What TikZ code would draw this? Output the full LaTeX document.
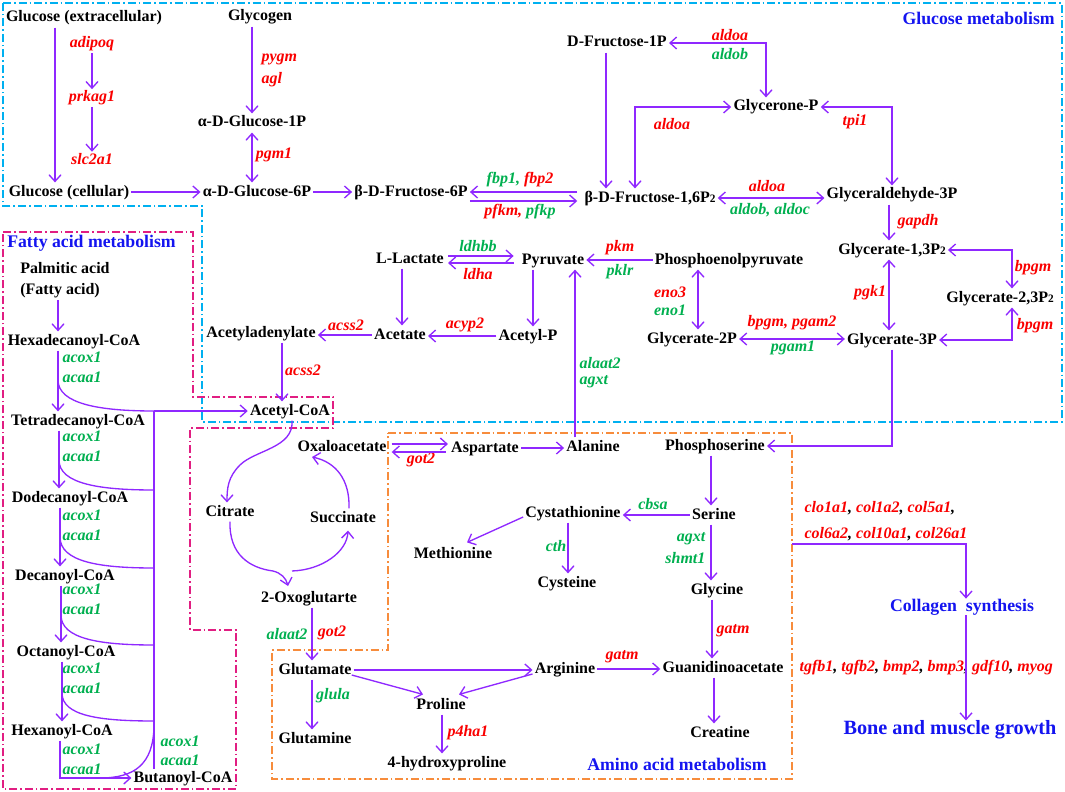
\documentclass[tikz,border=0pt]{standalone}
\usepackage{fontspec}
\setmainfont{Liberation Serif}
\usetikzlibrary{arrows.meta,calc}
\definecolor{pur}{RGB}{143,40,255}
\definecolor{gred}{RGB}{250,0,0}
\definecolor{ggreen}{RGB}{0,176,80}
\definecolor{tblue}{RGB}{20,20,240}
\definecolor{cyanb}{RGB}{0,176,240}
\definecolor{magb}{RGB}{225,30,130}
\definecolor{orab}{RGB}{247,140,60}
\newcommand\Ptwo{P{\fontsize{8.5}{9}\selectfont 2}}
\newcommand\blk[1]{{\color{black}#1}}
\begin{document}
\begin{tikzpicture}[x=0.75pt,y=-0.75pt,
 m/.style={font=\bfseries\fontsize{12}{13}\selectfont, inner sep=1.5pt, text height=8.5pt, text depth=2.5pt},
 mb/.style={font=\bfseries\fontsize{12}{15.75}\selectfont, inner sep=1.5pt},
 gr/.style={font=\bfseries\itshape\fontsize{12}{13}\selectfont, text=gred, inner sep=1pt},
 gg/.style={gr, text=ggreen},
 ttl/.style={font=\bfseries\fontsize{13.3}{14}\selectfont, text=tblue, inner sep=0pt},
 arr/.style={draw=pur, line width=1pt, -{Straight Barb[length=5pt,width=9pt]}},
 darr/.style={draw=pur, line width=1pt, {Straight Barb[length=5pt,width=9pt]}-{Straight Barb[length=5pt,width=9pt]}},
 ln/.style={draw=pur, line width=1pt},
 dd/.style={line width=1.3pt, dash pattern=on 6pt off 2.2pt on 1.3pt off 2.2pt}
]
\useasboundingbox (0,0) rectangle (1065,792);
\fill[white] (0,0) rectangle (1065,792);
% boxes
\draw[dd, cyanb] (3,3) -- (1062,3) -- (1062,422) -- (202,422) -- (202,206) -- (3,206) -- cycle;
\draw[dd, magb] (3,232) -- (193,232) -- (193,397) -- (333,397) -- (333,428) -- (190,428) -- (190,630) -- (236,630) -- (236,789) -- (3,789) -- cycle;
\draw[dd, orab] (388,433) -- (792,433) -- (792,779) -- (272,779) -- (272,650) -- (388,650) -- cycle;
% titles
\node[ttl, anchor=east] (tglc) at (1055,18) {Glucose metabolism};
\node[ttl, anchor=west] (tfat) at (7,243) {Fatty acid metabolism};
\node[ttl] (tamino) at (677,764) {Amino acid metabolism};
% x helper coordinates
\foreach \v in {55,58,59,60,61,62,227,282,292,312,348,349,402,442,533,568,575,606,635,698,711,712,714,766,889,966,1012}
  \coordinate (x\v) at (\v,0);
% ---- glucose metabolism
\node[m] (gext) at (84,18) {Glucose (extracellular)};
\node[gr] (adipoq) at (92,44) {adipoq};
\node[gr] (prkag) at (92,98) {prkag1};
\node[gr] (slc) at (92,159) {slc2a1};
\node[m] (gcell) at (69,192) {Glucose (cellular)};
\node[m] (glycogen) at (260,17) {Glycogen};
\node[gr, anchor=west] (pygm) at (260,59) {pygm};
\node[gr, anchor=west] (agl) at (260,80) {agl};
\node[m] (g1p) at (252,123) {α-D-Glucose-1P};
\node[gr] (pgm) at (274,155) {pgm1};
\node[m] (g6p) at (257,192) {α-D-Glucose-6P};
\node[m] (f6p) at (411,192) {β-D-Fructose-6P};
\node[gr] (fbp) at (520,180) {\color{ggreen}fbp1, \color{gred}fbp2};
\node[gr] (pfk) at (520,212) {pfkm, \color{ggreen}pfkp};
\node[m] (f16) at (650,198) {β-D-Fructose-1,6\Ptwo};
\node[m] (f1p) at (617,43) {D-Fructose-1P};
\node[gr] (aldoa1) at (730,35) {aldoa};
\node[gg] (aldob1) at (730,54) {aldob};
\node[m] (gp) at (776,107) {Glycerone-P};
\node[gr] (aldoa2) at (672,124) {aldoa};
\node[gr] (tpi) at (855,122) {tpi1};
\node[m] (gald) at (892,195) {Glyceraldehyde-3P};
\node[gr] (aldoa3) at (767,186) {aldoa};
\node[gg] (aldobc) at (770,210) {aldob, aldoc};
\node[gr] (gapdh) at (918,222) {gapdh};
\node[m] (g13) at (892,250) {Glycerate-1,3\Ptwo};
\node[m] (g23) at (1000,298) {Glycerate-2,3\Ptwo};
\node[gr] (bpgm1) at (1033,268) {bpgm};
\node[gr] (bpgm2) at (1035,326) {bpgm};
\node[m] (g3p) at (892,340) {Glycerate-3P};
\node[gr] (pgk) at (870,293) {pgk1};
\node[m] (g2p) at (692,339) {Glycerate-2P};
\node[gr] (bpgm3) at (792,323) {bpgm, pgam2};
\node[gg] (pgam1) at (793,348) {pgam1};
\node[m] (pep) at (729,260) {Phosphoenolpyruvate};
\node[gr] (eno3) at (670,292) {eno3};
\node[gg] (eno1) at (670,310) {eno1};
\node[m] (pyr) at (553,260) {Pyruvate};
\node[gr] (pkm) at (620,248) {pkm};
\node[gg] (pklr) at (620,272) {pklr};
\node[m] (lac) at (410,259) {L-Lactate};
\node[gg] (ldhbb) at (478,246) {ldhbb};
\node[gr] (ldha) at (478,274) {ldha};
\node[m] (acetate) at (400,335) {Acetate};
\node[m] (acp) at (528,336) {Acetyl-P};
\node[gr] (acyp) at (465,325) {acyp2};
\node[m] (acad) at (261,333) {Acetyladenylate};
\node[gr] (acss1) at (346,325) {acss2};
\node[gr] (acss2) at (303,370) {acss2};
\node[m] (acoa) at (290,411) {Acetyl-CoA};
\node[gg, anchor=west] (alaat1) at (578,363) {alaat2};
\node[gg, anchor=west] (agxt1) at (578,382) {agxt};
% ---- fatty acid
\node[mb, anchor=west, align=left] (palm) at (18,280) {Palmitic acid\\(Fatty acid)};
\node[m] (c16) at (74,341) {Hexadecanoyl-CoA};
\node[m] (c14) at (78,421) {Tetradecanoyl-CoA};
\node[m] (c12) at (70,498) {Dodecanoyl-CoA};
\node[m] (c10) at (65,576) {Decanoyl-CoA};
\node[m] (c8) at (66,652) {Octanoyl-CoA};
\node[m] (c6) at (62,731) {Hexanoyl-CoA};
\node[m] (c4) at (183,778) {Butanoyl-CoA};
\foreach \n/\yy in {a/357,b/436,c/515,d/589,e/668,f/749}{
  \node[gg, anchor=west] (ox\n) at (61,\yy) {acox1};
  \node[gg, anchor=west] (aa\n) at (61,\yy+20) {acaa1};
}
\node[gg, anchor=west] (oxg1) at (159,741) {acox1};
\node[gg, anchor=west] (aag1) at (159,760) {acaa1};
\coordinate (bus) at (154,411);
\coordinate (busend) at (154,769);
% ---- TCA
\node[m] (cit) at (230,512) {Citrate};
\node[m] (succ) at (343,518) {Succinate};
\node[m] (oaa) at (342,447) {Oxaloacetate};
\node[m] (oxg) at (309,598) {2-Oxoglutarte};
% ---- amino acids
\node[m] (asp) at (485,448) {Aspartate};
\node[gr] (got2a) at (421,460) {got2};
\node[m] (ala) at (593,447) {Alanine};
\node[m] (pser) at (715,446) {Phosphoserine};
\node[m] (ser) at (714,515) {Serine};
\node[gg] (cbsa) at (653,504) {cbsa};
\node[m] (cysta) at (573,513) {Cystathionine};
\node[m] (met) at (453,554) {Methionine};
\node[m] (cys) at (567,583) {Cysteine};
\node[gg] (cth) at (556,546) {cth};
\node[gg, anchor=east] (agxt2) at (707,539) {agxt};
\node[gg, anchor=east] (shmt) at (707,558) {shmt1};
\node[m] (gly) at (717,590) {Glycine};
\node[gr] (gatm1) at (733,631) {gatm};
\node[m] (gua) at (723,668) {Guanidinoacetate};
\node[m] (arg) at (565,669) {Arginine};
\node[gr] (gatm2) at (622,657) {gatm};
\node[m] (crea) at (720,733) {Creatine};
\node[m] (glu) at (315,670) {Glutamate};
\node[gg] (alaat2) at (287,634) {alaat2};
\node[gr] (got2b) at (332,633) {got2};
\node[m] (gln) at (315,739) {Glutamine};
\node[gg] (glula) at (333,696) {glula};
\node[m] (pro) at (441,705) {Proline};
\node[gr] (p4ha) at (468,733) {p4ha1};
\node[m] (hyp) at (447,763) {4-hydroxyproline};
% ---- collagen / growth
\node[gr, anchor=west] (col1) at (803,508) {clo1a1\blk{,} col1a2\blk{,} col5a1\blk{,}};
\node[gr, anchor=west] (col2) at (803,534) {col6a2\blk{,} col10a1\blk{,} col26a1};
\coordinate (cstart) at (792,544);
\node[ttl] (colsyn) at (962,607) {Collagen\ \ synthesis};
\node[gr, anchor=west] (tgf) at (798,668) {tgfb1\blk{,} tgfb2\blk{,} bmp2\blk{,} bmp3\blk{,} gdf10\blk{,} myog};
\node[font=\bfseries\fontsize{15.2}{16}\selectfont, text=tblue, inner sep=0pt] (bone) at (950,730) {Bone and muscle growth};
% ===== connectors
\draw[arr] (adipoq) -- (prkag);
\draw[arr] (prkag) -- (slc);
\draw[arr] (gext.south -| x55) -- (gcell.north -| x55);
\draw[arr] (glycogen.south -| g1p.north) -- (g1p.north);
\draw[darr] (g1p.south) -- (g1p.south |- g6p.north);
\draw[arr] (gcell.east) -- (g6p.west);
\draw[arr] (g6p.east) -- (f6p.west);
\draw[arr] ($(f16.west)+(-5,-6)$) -- (f6p.east);
\draw[arr] ($(f6p.east)+(0,9)$) -- ($(f16.west)+(-5,3)$);
\draw[darr] (f1p.east) -| (gp.north -| x766);
\draw[arr] (f1p.south -| x606) -- (f16.north -| x606);
\draw[darr] (f16.north -| x635) |- (gp.west);
\draw[darr] (gp.east) -| (gald.north);
\draw[darr] (f16.east) -- (f16.east -| gald.west);
\draw[arr] (gald.south -| x889) -- (g13.north -| x889);
\draw[darr] (g13.east) -| (g23.north -| x1012);
\draw[darr] (g23.south -| x1012) |- (g3p.east);
\draw[darr] (g13.south -| x889) -- (g3p.north -| x889);
\draw[darr] (g2p.east) -- (g2p.east -| g3p.west);
\draw[darr] (pep.south -| x698) -- (g2p.north -| x698);
\draw[arr] (pep.west) -- (pep.west -| pyr.east);
\draw[arr] ($(lac.east)+(2,-3)$) -- ($(pyr.west)+(-6,-4)$);
\draw[arr] ($(pyr.west)+(-6,3)$) -- ($(lac.east)+(2,4)$);
\draw[arr] (lac.south -| x402) -- (acetate.north -| x402);
\draw[arr] (pyr.south -| x533) -- (acp.north -| x533);
\draw[arr] (acp.west) -- (acp.west -| acetate.east);
\draw[arr] (acetate.west) -- (acetate.west -| acad.east);
\draw[arr] (acad.south -| x282) -- (acoa.north -| x282);
\draw[arr] (ala.north -| x575) -- (pyr.south -| x575);
% fatty acid chain
\draw[arr] (palm.south -| x58) -- (c16.north -| x58);
\draw[arr] (c16.south -| x58) -- (c14.north -| x58);
\draw[arr] (c14.south -| x59) -- (c12.north -| x59);
\draw[arr] (c12.south -| x60) -- (c10.north -| x60);
\draw[arr] (c10.south -| x61) -- (c8.north -| x61);
\draw[arr] (c8.south -| x62) -- (c6.north -| x62);
\draw[arr] (c6.south -| x60) |- (c4.west);
\draw[ln] (bus) -- (busend);
\draw[arr] (bus) -- (acoa.west);
\draw[ln] (58,380) .. controls (58,404) and (100,411) .. (bus);
\draw[ln] (59,460) .. controls (59,484) and (100,490) .. (154,490);
\draw[ln] (60,537) .. controls (60,562) and (100,568) .. (154,568);
\draw[ln] (61,615) .. controls (61,639) and (100,645) .. (154,645);
\draw[ln] (62,693) .. controls (62,716) and (100,721) .. (154,721);
\draw[ln] (154,727) .. controls (153,764) and (135,778) .. (100,778);
% TCA
\draw[arr] (acoa.south -| x292) .. controls (294,448) and (255,450) .. (240,465) .. controls (228,477) and (227,488) .. (cit.north -| x227);
\draw[arr] (cit.south) .. controls (229,555) and (250,568) .. (273,571) .. controls (281,573) and (286,578) .. (288,586);
\draw[arr] (292,571) .. controls (322,570) and (347,552) .. ($(succ.south -| x348)+(0,3)$);
\draw[arr] (succ.north -| x349) .. controls (350,480) and (336,462) .. (312,457);
\draw[arr] ($(oaa.east)+(3,-3)$) -- ($(asp.west)+(-1,-4)$);
\draw[arr] ($(asp.west)+(-3,4)$) -- ($(oaa.east)+(3,5)$);
\draw[arr] (asp.east) -- (asp.east -| ala.west);
% amino acids
\draw[arr] (g3p.south) |- (pser.east);
\draw[arr] (pser.south -| x711) -- (ser.north -| x711);
\draw[arr] (ser.west) -- (ser.west -| cysta.east);
\draw[arr] ($(cysta.west)+(0,4)$) -- ($(met.north)+(14,-2)$);
\draw[arr] (cysta.south -| x568) -- (cys.north -| x568);
\draw[arr] (ser.south -| x711) -- (gly.north -| x711);
\draw[arr] (gly.south -| x712) -- (gua.north -| x712);
\draw[arr] (arg.east) -- (arg.east -| gua.west);
\draw[arr] (gua.south -| x714) -- (crea.north -| x714);
\draw[arr] (oxg.south -| x312) -- (glu.north -| x312);
\draw[arr] (glu.south -| x312) -- (gln.north -| x312);
\draw[arr] (glu.east) -- (glu.east -| arg.west);
\draw[arr] ($(glu.east)+(-2,5)$) -- ($(pro.north)+(-18,-1)$);
\draw[arr] ($(arg.west)+(0,5)$) -- ($(pro.north)+(18,-1)$);
\draw[arr] (pro.south -| x442) -- (hyp.north -| x442);
% collagen
\draw[arr] (cstart) -| (colsyn.north -| x966);
\draw[arr] (colsyn.south -| x966) -- (bone.north -| x966);
\end{tikzpicture}
\end{document}
